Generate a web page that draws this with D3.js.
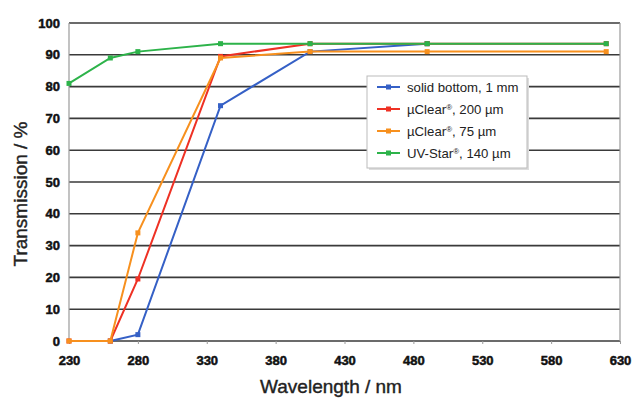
<!DOCTYPE html>
<html><head><meta charset="utf-8">
<script src="https://cdn.jsdelivr.net/npm/d3@7"></script>
<style>body{margin:0;background:#fff}svg{display:block}</style>
</head><body>
<script>
const seriesNames = ["solid bottom, 1 mm", "µClear®, 200 µm", "µClear®, 75 µm", "UV-Star®, 140 µm"];
const seriesColors = ["#3560c6", "#ee3124", "#f7901e", "#2db34a"];
const blueX = [260, 280, 340, 405, 490];
const blueY = [0, 2, 74, 91, 93.5];
const redX = [230, 260, 280, 340, 405, 490, 620];
const redY = [0, 0, 19.5, 89.5, 93.5, 93.5, 93.5];
const orangeX = [230, 260, 280, 340, 405, 490, 620];
const orangeY = [0, 0, 34, 89, 91, 91, 91];
const greenX = [230, 260, 280, 340, 405, 490, 620];
const greenY = [81, 89, 91, 93.5, 93.5, 93.5, 93.5];
const xTicks = [230, 280, 330, 380, 430, 480, 530, 580, 630];
const yTicks = [0, 10, 20, 30, 40, 50, 60, 70, 80, 90, 100];

const W = 632, H = 400;
const FONT = "Arial, 'Liberation Sans', Helvetica, sans-serif";
const svg = d3.select("body").append("svg").attr("width", W).attr("height", H);
const x = d3.scaleLinear().domain([230, 630]).range([69, 620]);
const y = d3.scaleLinear().domain([0, 100]).range([341, 23]);

// grid
svg.append("g").selectAll("line").data(yTicks).join("line")
  .attr("x1", x(230)).attr("x2", x(630))
  .attr("y1", d => y(d)).attr("y2", d => y(d))
  .attr("stroke", "#3a3a3a").attr("stroke-width", 1.6);
// side borders
svg.append("line").attr("x1", x(230)).attr("x2", x(230)).attr("y1", y(100)).attr("y2", y(0)).attr("stroke", "#9a9a9a").attr("stroke-width", 1.2);
svg.append("line").attr("x1", x(630)).attr("x2", x(630)).attr("y1", y(100)).attr("y2", y(0)).attr("stroke", "#9a9a9a").attr("stroke-width", 1.2);

// y axis labels
const yAxis = d3.axisLeft(y).tickValues(yTicks).tickSize(0).tickPadding(9);
const gy = svg.append("g").attr("transform", `translate(${x(230)},0)`).call(yAxis);
gy.select(".domain").remove();
gy.selectAll("text").attr("font-family", FONT).attr("font-weight", "bold").attr("font-size", 13)
  .attr("fill", "#111").attr("stroke", "#111").attr("stroke-width", 0.5);

const xAxis = d3.axisBottom(x).tickValues(xTicks).tickSize(3).tickPadding(12);
const gx = svg.append("g").attr("transform", `translate(0,${y(0)})`).call(xAxis);
gx.select(".domain").remove();
gx.selectAll("line").attr("stroke", "#999");
gx.selectAll("text").attr("font-family", FONT).attr("font-weight", "bold").attr("font-size", 13)
  .attr("fill", "#111").attr("stroke", "#111").attr("stroke-width", 0.5);

// titles
svg.append("text").attr("x", 331).attr("y", 393).attr("text-anchor", "middle")
  .attr("font-family", FONT).attr("font-size", 19).attr("fill", "#222").attr("stroke", "#222").attr("stroke-width", 0.4)
  .text("Wavelength / nm");
svg.append("text").attr("transform", "translate(27,194) rotate(-90)").attr("text-anchor", "middle")
  .attr("font-family", FONT).attr("font-size", 19).attr("fill", "#222").attr("stroke", "#222").attr("stroke-width", 0.4)
  .text("Transmission / %");

const series = [
  {xs: blueX, ys: blueY},
  {xs: redX, ys: redY},
  {xs: orangeX, ys: orangeY},
  {xs: greenX, ys: greenY}
];
const line = d3.line().x(d => x(d[0])).y(d => y(d[1]));
series.forEach((s, i) => {
  const pts = s.xs.map((v, j) => [v, s.ys[j]]);
  const g = svg.append("g");
  g.append("path").attr("d", line(pts)).attr("fill", "none").attr("stroke", seriesColors[i]).attr("stroke-width", 2);
  g.selectAll("rect").data(pts).join("rect")
    .attr("x", d => x(d[0]) - 2.5).attr("y", d => y(d[1]) - 2.5)
    .attr("width", 5).attr("height", 5).attr("fill", seriesColors[i]);
});

// legend
const lg = svg.append("g").attr("transform", "translate(367,76)");
lg.append("rect").attr("x", 2).attr("y", 2).attr("width", 160).attr("height", 92).attr("fill", "#ddd");
lg.append("rect").attr("width", 160).attr("height", 92).attr("fill", "#fff").attr("stroke", "#bbb").attr("stroke-width", 1);
seriesNames.forEach((n, i) => {
  const yy = 11 + i * 22;
  lg.append("line").attr("x1", 10).attr("x2", 33).attr("y1", yy).attr("y2", yy).attr("stroke", seriesColors[i]).attr("stroke-width", 2);
  lg.append("rect").attr("x", 19).attr("y", yy - 2.5).attr("width", 5).attr("height", 5).attr("fill", seriesColors[i]);
  const t = lg.append("text").attr("x", 40).attr("y", yy + 4.5)
    .attr("font-family", FONT).attr("font-size", 13.2).attr("fill", "#222");
  const parts = n.split("®");
  t.append("tspan").text(parts[0]);
  if (parts.length > 1) {
    t.append("tspan").attr("font-size", 8).attr("dy", -4).text("®");
    t.append("tspan").attr("dy", 4).text(parts[1]);
  }
});
</script>
</body></html>
